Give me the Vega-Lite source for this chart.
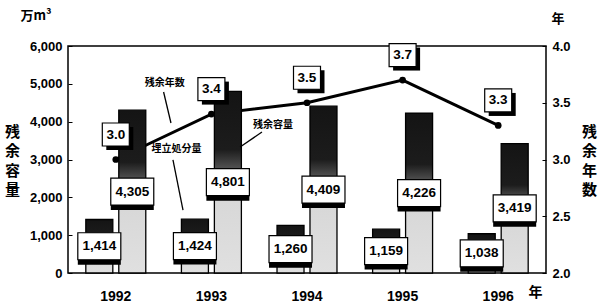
{
  "$schema": "https://vega.github.io/schema/vega-lite/v6.json",
  "width": 478,
  "height": 227,
  "autosize": {"type": "none"},
  "padding": {"left": 68, "top": 46, "right": 54, "bottom": 34},
  "background": "white",
  "config": {
    "font": "Liberation Sans",
    "view": {"stroke": "#000", "strokeWidth": 1.5},
    "axis": {"labelColor": "#000", "titleColor": "#000", "grid": false, "domain": false, "tickColor": "#000"},
    "text": {"color": "#000"}
  },
  "datasets": {
    "bars": [
      {"year": "1992", "type": "埋立処分量", "value": 1414},
      {"year": "1992", "type": "残余容量", "value": 4305},
      {"year": "1993", "type": "埋立処分量", "value": 1424},
      {"year": "1993", "type": "残余容量", "value": 4801},
      {"year": "1994", "type": "埋立処分量", "value": 1260},
      {"year": "1994", "type": "残余容量", "value": 4409},
      {"year": "1995", "type": "埋立処分量", "value": 1159},
      {"year": "1995", "type": "残余容量", "value": 4226},
      {"year": "1996", "type": "埋立処分量", "value": 1038},
      {"year": "1996", "type": "残余容量", "value": 3419}
    ],
    "line": [
      {"year": "1992", "years": 3.0},
      {"year": "1993", "years": 3.4},
      {"year": "1994", "years": 3.5},
      {"year": "1995", "years": 3.7},
      {"year": "1996", "years": 3.3}
    ]
  },
  "encoding": {
    "x": {
      "field": "year", "type": "nominal",
      "scale": {"type": "band", "paddingInner": 0, "paddingOuter": 0},
      "axis": {"title": "年", "titleAngle": 0, "titleX": 467, "titleY": 19, "titleBaseline": "middle", "titleAlign": "center", "titleFont": "Noto Sans CJK JP", "titleFontSize": 14, "titleFontWeight": "bold", "labelAngle": 0, "labelFontSize": 14, "labelFontWeight": "bold", "labelPadding": 16, "ticks": false, "domain": false}
    }
  },
  "layer": [
    {
      "data": {"name": "line"},
      "mark": {"type": "line", "color": "#000", "strokeWidth": 3, "point": {"filled": true, "fill": "#000", "size": 45}},
      "encoding": {
        "y": {
          "field": "years", "type": "quantitative",
          "scale": {"domain": [2, 4], "zero": false, "nice": false},
          "axis": {"orient": "right", "values": [2, 2.5, 3, 3.5, 4], "format": ".1f", "labelFontSize": 13, "labelFontWeight": "bold", "labelPadding": 10, "tickSize": -4, "title": ["残", "余", "年", "数"], "titleAngle": 0, "titleX": 43, "titleY": 78, "titleBaseline": "top", "titleAlign": "center", "titleFont": "Noto Sans CJK JP", "titleFontSize": 15, "titleFontWeight": "bold", "titleLineHeight": 19.5}
        }
      }
    },
    {
      "data": {"name": "bars"},
      "mark": {"type": "bar", "width": 27, "stroke": "#000", "strokeWidth": 1.3,
        "fill": {"gradient": "linear", "x1": 0, "y1": 0, "x2": 0, "y2": 1, "stops": [
          {"offset": 0, "color": "#141414"},
          {"offset": 0.32, "color": "#1c1c1c"},
          {"offset": 0.44, "color": "#5a5a5a"},
          {"offset": 0.52, "color": "#d6d6d6"},
          {"offset": 1, "color": "#e0e0e0"}]}},
      "encoding": {
        "xOffset": {"field": "type", "type": "nominal", "sort": ["埋立処分量", "残余容量"], "scale": {"paddingInner": 0, "paddingOuter": 0.45}},
        "y": {
          "field": "value", "type": "quantitative",
          "scale": {"domain": [0, 6000], "nice": false},
          "axis": {"orient": "left", "values": [0, 1000, 2000, 3000, 4000, 5000, 6000], "format": ",.0f", "labelFontSize": 13, "labelFontWeight": "bold", "labelPadding": 10, "tickSize": -4, "title": ["残", "余", "容", "量"], "titleAngle": 0, "titleX": -56, "titleY": 78, "titleBaseline": "top", "titleAlign": "center", "titleFont": "Noto Sans CJK JP", "titleFontSize": 15, "titleFontWeight": "bold", "titleLineHeight": 19.5}
        }
      }
    },
    {
      "data": {"values": [{}]},
      "layer": [
        {
          "mark": {"type": "text", "font": "Noto Sans CJK JP", "fontSize": 10, "fontWeight": "bold", "dx": 49},
          "encoding": {"x": {"datum": "1992"}, "y": {"datum": 5020, "type": "quantitative", "scale": {"domain": [0, 6000], "nice": false}, "axis": null}, "text": {"value": "残余年数"}}
        },
        {
          "mark": {"type": "text", "font": "Noto Sans CJK JP", "fontSize": 10, "fontWeight": "bold", "dx": -35},
          "encoding": {"x": {"datum": "1993"}, "y": {"datum": 3280, "type": "quantitative", "axis": null}, "text": {"value": "埋立処分量"}}
        },
        {
          "mark": {"type": "text", "font": "Noto Sans CJK JP", "fontSize": 10, "fontWeight": "bold", "dx": -34},
          "encoding": {"x": {"datum": "1994"}, "y": {"datum": 3910, "type": "quantitative", "axis": null}, "text": {"value": "残余容量"}}
        },
        {
          "mark": {"type": "text", "font": "Noto Sans CJK JP", "fontSize": 13, "fontWeight": "bold", "dx": -32, "dy": -30},
          "encoding": {"x": {"datum": "1992", "bandPosition": 0}, "y": {"datum": 6000, "type": "quantitative", "axis": null}, "text": {"value": "万m³"}}
        },
        {
          "mark": {"type": "text", "font": "Noto Sans CJK JP", "fontSize": 13, "fontWeight": "bold", "dx": 12, "dy": -27},
          "encoding": {"x": {"datum": "1996", "bandPosition": 1}, "y": {"datum": 6000, "type": "quantitative", "axis": null}, "text": {"value": "年"}}
        },
        {
          "mark": {"type": "rule", "color": "#000", "strokeWidth": 1.3},
          "encoding": {"x": {"datum": "1993", "bandPosition": 0}, "x2": {"datum": "1993", "bandPosition": 0.077}, "y": {"datum": 4784, "type": "quantitative", "axis": null}, "y2": {"datum": 3965}}
        },
        {
          "mark": {"type": "rule", "color": "#000", "strokeWidth": 1.3},
          "encoding": {"x": {"datum": "1993", "bandPosition": 0.098}, "x2": {"datum": "1993", "bandPosition": 0.203}, "y": {"datum": 2987, "type": "quantitative", "axis": null}, "y2": {"datum": 1665}}
        },
        {
          "mark": {"type": "rule", "color": "#000", "strokeWidth": 1.3},
          "encoding": {"x": {"datum": "1994", "bandPosition": 0.029}, "x2": {"datum": "1993", "bandPosition": 0.8}, "y": {"datum": 3727, "type": "quantitative", "axis": null}, "y2": {"datum": 3330}}
        }
      ]
    },
    {
      "data": {"name": "bars"},
      "encoding": {
        "xOffset": {"field": "type", "type": "nominal", "sort": ["埋立処分量", "残余容量"]},
        "y": {"field": "value", "type": "quantitative", "scale": {"domain": [0, 12000], "nice": false}, "axis": null}
      },
      "layer": [
        {"mark": {"type": "rect", "width": 43, "height": 27, "fill": "#000", "xOffset": 5, "yOffset": 5}},
        {"mark": {"type": "rect", "width": 43, "height": 27, "fill": "#fff", "stroke": "#000", "strokeWidth": 1.2}},
        {"mark": {"type": "text", "fontSize": 13.5, "fontWeight": "bold"}, "encoding": {"text": {"field": "value", "type": "quantitative", "format": ","}}}
      ]
    },
    {
      "data": {"name": "line"},
      "encoding": {
        "y": {"field": "years", "type": "quantitative", "scale": {"domain": [2, 4], "zero": false, "nice": false}, "axis": null}
      },
      "layer": [
        {"mark": {"type": "rect", "width": 27, "height": 23, "fill": "#000", "xOffset": 4, "yOffset": -21}},
        {"mark": {"type": "rect", "width": 27, "height": 23, "fill": "#fff", "stroke": "#000", "strokeWidth": 1.2, "yOffset": -25}},
        {"mark": {"type": "text", "fontSize": 13.5, "fontWeight": "bold", "dy": -25}, "encoding": {"text": {"field": "years", "type": "quantitative", "format": ".1f"}}}
      ]
    }
  ],
  "resolve": {"scale": {"y": "independent"}}
}
